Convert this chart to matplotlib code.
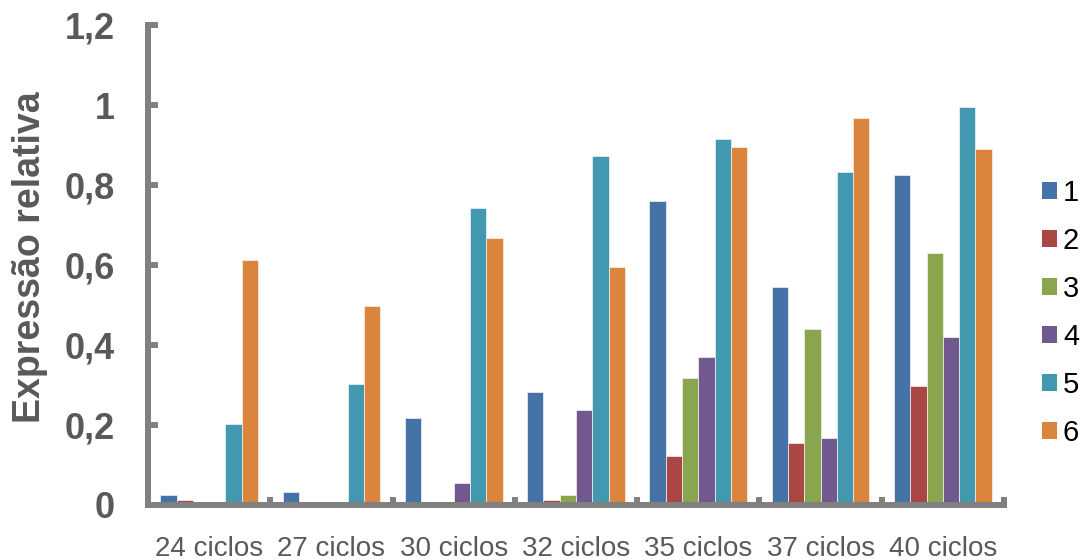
import numpy as np
import matplotlib
matplotlib.use('Agg')
import matplotlib.pyplot as plt
from matplotlib.patches import Patch
from matplotlib.ticker import FuncFormatter, FixedLocator

# expressão relativa por número de ciclos
ciclos = ['24 ciclos', '27 ciclos', '30 ciclos', '32 ciclos',
          '35 ciclos', '37 ciclos', '40 ciclos']
amostras = ['1', '2', '3', '4', '5', '6']

s1 = [0.025, 0.033, 0.217, 0.283, 0.761, 0.544, 0.824]
s2 = [0.012, 0.0, 0.0, 0.012, 0.123, 0.154, 0.298]
s3 = [0.0, 0.0, 0.0, 0.024, 0.318, 0.439, 0.630]
s4 = [0.0, 0.0, 0.056, 0.238, 0.369, 0.167, 0.419]
s5 = [0.203, 0.302, 0.743, 0.873, 0.914, 0.833, 0.996]
s6 = [0.613, 0.498, 0.667, 0.596, 0.896, 0.967, 0.890]

series = [s1, s2, s3, s4, s5, s6]
cores = ['#4572A7', '#AA4643', '#89A54E', '#71588F', '#4198AF', '#DB843D']

plt.rcParams['font.family'] = ['Liberation Sans', 'DejaVu Sans']

cinza = '#808080'
texto = '#595959'

fig = plt.figure(figsize=(10.84, 5.6), dpi=100)
ax = fig.add_axes([148 / 1084, 1 - 505 / 560, 856 / 1084, 480 / 560])

x = np.arange(len(ciclos))
largura = 0.8 / len(series)
for i, (vals, cor) in enumerate(zip(series, cores)):
    ax.bar(x + (i - 2.5) * largura, vals, width=largura, color=cor,
           edgecolor='#f4f4f4', linewidth=0.5, zorder=1)

ax.set_xlim(-0.5, len(ciclos) - 0.5)
ax.set_ylim(0, 1.2)

for lado in ['top', 'right']:
    ax.spines[lado].set_visible(False)
for lado in ['left', 'bottom']:
    ax.spines[lado].set_color(cinza)
    ax.spines[lado].set_linewidth(4.3)
    ax.spines[lado].set_capstyle('projecting')

ax.set_yticks(np.arange(0, 1.21, 0.2))
ax.yaxis.set_major_formatter(FuncFormatter(lambda v, p: f'{v:.1f}'.rstrip('0').rstrip('.').replace('.', ',') if v else '0'))
ax.tick_params(axis='y', direction='in', length=7, width=4.3, color=cinza,
               labelsize=26, labelcolor=texto, pad=24)
for lbl in ax.get_yticklabels():
    lbl.set_fontweight('bold')

ax.set_xticks(x)
ax.set_xticklabels(ciclos)
ax.tick_params(axis='x', which='major', length=0, labelsize=20,
               labelcolor=texto, pad=22)
ax.xaxis.set_minor_locator(FixedLocator(np.arange(0.5, len(ciclos), 1.0)))
ax.tick_params(axis='x', which='minor', direction='in', length=6, width=4.3,
               color=cinza)

fig.text(30 / 1084, 1 - 257 / 560, 'Expressão relativa', rotation=90,
         ha='center', va='center', fontsize=27, fontweight='bold', color=texto)

handles = [Patch(facecolor=c, edgecolor='none') for c in cores]
fig.legend(handles, amostras, loc='center left',
           bbox_to_anchor=(1042 / 1084, 1 - 313 / 560), frameon=False,
           fontsize=21, handlelength=0.52, handleheight=0.52,
           handletextpad=0.2, labelspacing=0.69, borderaxespad=0,
           borderpad=0)

fig.savefig('out.png', dpi=100)
